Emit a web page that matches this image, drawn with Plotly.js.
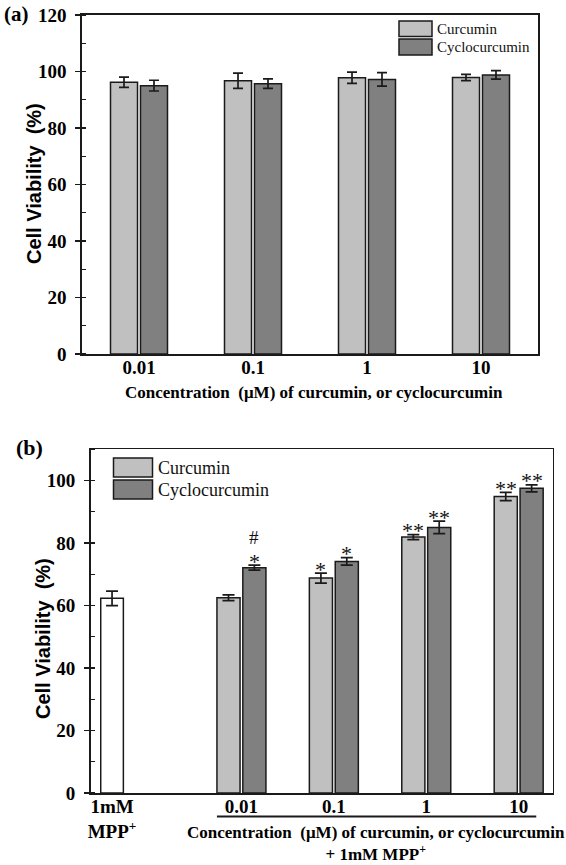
<!DOCTYPE html>
<html>
<head>
<meta charset="utf-8">
<script src="https://cdn.plot.ly/plotly-3.0.1.min.js"></script>
<style>html,body{margin:0;padding:0;background:#fff;}#chart{width:566px;height:865px;}</style>
</head>
<body>
<div id="chart"></div>
<script>
// ---------- DATA ----------
const seriesNames = ["Curcumin", "Cyclocurcumin"];
const concLabels = ["0.01", "0.1", "1", "10"];
// Panel (a): cytotoxicity alone
const curcuminA = [96.2, 96.7, 97.8, 97.9];
const curcuminAErr = [1.8, 2.7, 2.0, 1.1];
const cycloA = [95.0, 95.7, 97.2, 98.8];
const cycloAErr = [1.9, 1.7, 2.4, 1.5];
// Panel (b): with 1mM MPP+
const mppLabel = "1mM<br>MPP<sup>+</sup>";
const mppValue = [62.3];
const mppErr = [2.3];
const curcuminB = [62.5, 68.8, 81.9, 94.9];
const curcuminBErr = [0.9, 1.6, 0.8, 1.3];
const cycloB = [72.1, 74.1, 85.0, 97.5];
const cycloBErr = [0.8, 1.2, 2.0, 1.1];
const sigCurcuminB = ["", "*", "**", "**"];
const sigCycloB = ["*", "*", "**", "**"];
const hashCycloB = ["#", "", "", ""];

// ---------- LAYOUT HELPERS ----------
const W = 566, H = 865;
const px = v => v / W;
const py = v => 1 - v / H;
const serif = "Liberation Serif, Times New Roman, serif";
const sans = "Liberation Sans, Arial, sans-serif";
const ink = "#1a1a1a";
const lightGray = "#c0c0c0";
const darkGray = "#808080";

// x positions of groups in panel (b) (layout, not data)
const mppPos = 0;
const groupPosB = concLabels.map((_, i) => 1.4 + i);

const barW_A = 0.237, offCurA = -0.25, offCycA = 0.013;
const barW_B = 0.25, offCurB = -0.265, offCycB = 0.015;

function errStyle(arr, w) {
  return {type: "data", array: arr, visible: true, color: ink, thickness: 1.7, width: w};
}
const lineStyle = {color: ink, width: 1.5};

const traces = [
  {type: "bar", name: seriesNames[0], x: concLabels, y: curcuminA, width: barW_A, offset: offCurA,
   marker: {color: lightGray, line: lineStyle}, error_y: errStyle(curcuminAErr, 5),
   xaxis: "x", yaxis: "y", showlegend: false},
  {type: "bar", name: seriesNames[1], x: concLabels, y: cycloA, width: barW_A, offset: offCycA,
   marker: {color: darkGray, line: lineStyle}, error_y: errStyle(cycloAErr, 5),
   xaxis: "x", yaxis: "y", showlegend: false},
  {type: "bar", name: "MPP+", x: [mppPos], y: mppValue, width: 0.245,
   marker: {color: "#ffffff", line: lineStyle}, error_y: errStyle(mppErr, 6),
   xaxis: "x2", yaxis: "y2", showlegend: false},
  {type: "bar", name: seriesNames[0], x: groupPosB, y: curcuminB, width: barW_B, offset: offCurB,
   marker: {color: lightGray, line: lineStyle}, error_y: errStyle(curcuminBErr, 6),
   xaxis: "x2", yaxis: "y2", showlegend: false},
  {type: "bar", name: seriesNames[1], x: groupPosB, y: cycloB, width: barW_B, offset: offCycB,
   marker: {color: darkGray, line: lineStyle}, error_y: errStyle(cycloBErr, 6),
   xaxis: "x2", yaxis: "y2", showlegend: false}
];

const tickFont = {family: serif, size: 19, color: "#000", weight: "bold"};
const titleTxt = "Concentration\u00a0 (\u03bcM) of curcumin, or cyclocurcumin";

const annotations = [
  {text: "(a)", x: px(2), y: py(14), xref: "paper", yref: "paper", xanchor: "left", yanchor: "middle",
   showarrow: false, font: {family: serif, size: 21, color: "#000", weight: "bold"}},
  {text: "(b)", x: px(14), y: py(447), xref: "paper", yref: "paper", xanchor: "left", yanchor: "middle",
   showarrow: false, font: {family: serif, size: 22, color: "#000", weight: "bold"}},
  {text: "Cell Viability\u00a0 (%)", x: px(34), y: py(184), xref: "paper", yref: "paper", textangle: -90,
   xanchor: "center", yanchor: "middle", showarrow: false, font: {family: sans, size: 20, color: "#000", weight: "bold"}},
  {text: "Cell Viability\u00a0 (%)", x: px(43), y: py(639), xref: "paper", yref: "paper", textangle: -90,
   xanchor: "center", yanchor: "middle", showarrow: false, font: {family: sans, size: 20, color: "#000", weight: "bold"}},
  {text: titleTxt, x: px(314), y: py(392), xref: "paper", yref: "paper", xanchor: "center", yanchor: "middle",
   showarrow: false, font: {family: serif, size: 17, color: "#000", weight: "bold"}},
  {text: titleTxt + "<br>+ 1mM MPP<sup>+</sup>", x: px(376), y: py(843), xref: "paper", yref: "paper",
   xanchor: "center", yanchor: "middle", align: "center",
   showarrow: false, font: {family: serif, size: 17, color: "#000", weight: "bold"}}
];

// legend (drawn manually to match the original swatches)
const shapes = [];
function legendBlock(x0, x1, rows, textX, size) {
  rows.forEach((r, i) => {
    shapes.push({type: "rect", xref: "paper", yref: "paper", x0: px(x0), x1: px(x1), y0: py(r[1]), y1: py(r[0]),
      fillcolor: i === 0 ? lightGray : darkGray, line: {color: ink, width: 1.5}});
    annotations.push({text: seriesNames[i], x: px(textX), y: py((r[0] + r[1]) / 2), xref: "paper", yref: "paper",
      xanchor: "left", yanchor: "middle", showarrow: false, font: {family: serif, size: size, color: "#111"}});
  });
}
legendBlock(399, 432, [[21, 36.5], [39, 55]], 435, 15);
legendBlock(113.5, 152.5, [[458, 477], [480, 499]], 156, 18);

// significance markers
const sigFont = {family: serif, size: 22, color: "#111"};
const hashFont = {family: serif, size: 19, color: "#111"};
concLabels.forEach((_, i) => {
  if (sigCurcuminB[i]) annotations.push({text: sigCurcuminB[i], x: groupPosB[i] + offCurB + barW_B / 2,
    y: curcuminB[i] + curcuminBErr[i], xref: "x2", yref: "y2", yanchor: "middle", yshift: 4, showarrow: false, font: sigFont});
  if (sigCycloB[i]) annotations.push({text: sigCycloB[i], x: groupPosB[i] + offCycB + barW_B / 2,
    y: cycloB[i] + cycloBErr[i], xref: "x2", yref: "y2", yanchor: "middle", yshift: 4, showarrow: false, font: sigFont});
  if (hashCycloB[i]) annotations.push({text: hashCycloB[i], x: groupPosB[i] + offCycB + barW_B / 2,
    y: cycloB[i] + cycloBErr[i], xref: "x2", yref: "y2", yanchor: "middle", yshift: 28, showarrow: false, font: hashFont});
});

// bracket under concentration groups (b)
shapes.push({type: "line", xref: "x2", yref: "paper", x0: groupPosB[0] + offCurB, x1: groupPosB[groupPosB.length - 1] + 0.19,
  y0: py(816.5), y1: py(816.5), line: {color: ink, width: 2}});

const yCommon = {
  showline: true, mirror: true, linecolor: ink, linewidth: 1.6, showgrid: false, zeroline: false,
  ticks: "outside", ticklen: 5, tickwidth: 1.6, tickcolor: ink, dtick: 20, tickfont: tickFont,
  ticklabelstandoff: 5,
  minor: {dtick: 10, ticks: "inside", ticklen: 4, tickwidth: 1.4, tickcolor: ink, showgrid: false}
};
const xCommon = {
  showline: true, mirror: true, linecolor: ink, linewidth: 1.6, showgrid: false, zeroline: false,
  ticks: "", ticklen: 0, tickfont: tickFont
};

const layout = {
  width: W, height: H, autosize: false,
  margin: {l: 0, r: 0, t: 0, b: 0},
  paper_bgcolor: "#ffffff", plot_bgcolor: "#ffffff",
  barmode: "overlay", showlegend: false,
  xaxis: Object.assign({}, xCommon, {type: "category", range: [-0.5, 3.5], domain: [px(82), px(538)], anchor: "y",
    ticklabelstandoff: -4}),
  yaxis: Object.assign({}, yCommon, {range: [0, 120], domain: [py(354), py(15)], anchor: "x"}),
  xaxis2: Object.assign({}, xCommon, {type: "linear", range: [-0.231, 4.768], domain: [px(90.7), px(552.7)], anchor: "y2",
    tickmode: "array", tickvals: [mppPos].concat(groupPosB), ticktext: [mppLabel].concat(concLabels), ticklabelstandoff: -4}),
  yaxis2: Object.assign({}, yCommon, {range: [0, 110], domain: [py(793), py(449.3)], anchor: "x2"}),
  annotations: annotations,
  shapes: shapes
};

Plotly.newPlot("chart", traces, layout, {staticPlot: true, displayModeBar: false});
</script>
</body>
</html>
